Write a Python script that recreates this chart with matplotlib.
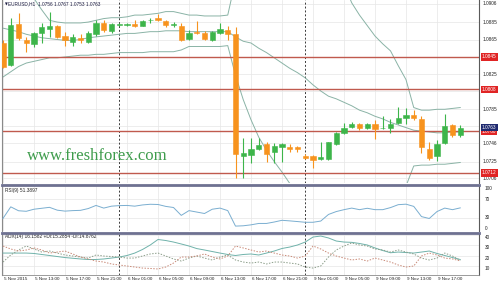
import matplotlib.pyplot as plt
from matplotlib.lines import Line2D
from matplotlib.transforms import blended_transform_factory as blend

plt.rcParams["font.family"] = ["Liberation Sans", "DejaVu Sans"]

# EURUSD H1, 5 Nov 09:00 .. 9 Nov 20:00 (one entry per candle)
opens = [1.0861, 1.0836, 1.0883, 1.0864, 1.0860, 1.0872, 1.0877, 1.0880, 1.0869, 1.0862,
         1.0867, 1.0862, 1.0871, 1.0884, 1.0875, 1.0882, 1.0882, 1.0883, 1.0881, 1.0887,
         1.0890, 1.0886, 1.0882, 1.0881, 1.0866, 1.0874, 1.0873, 1.0864, 1.0872, 1.0876,
         1.0871, 1.0732, 1.0733, 1.0740, 1.0745, 1.0736, 1.0742, 1.0742, 1.0742, 1.0731,
         1.0731, 1.0728, 1.0728, 1.0745, 1.0758, 1.0765, 1.0768, 1.0763, 1.0768, 1.0763,
         1.0763, 1.0769, 1.0775, 1.0779, 1.0774, 1.0739, 1.0731, 1.0746, 1.0767, 1.0756]
highs = [1.0865, 1.0890, 1.0895, 1.0868, 1.0874, 1.0884, 1.0897, 1.0882, 1.0874, 1.0871,
         1.0871, 1.0875, 1.0887, 1.0887, 1.0884, 1.0884, 1.0884, 1.0887, 1.0887, 1.0890,
         1.0894, 1.0887, 1.0885, 1.0884, 1.0876, 1.0886, 1.0875, 1.0875, 1.0884, 1.0881,
         1.0879, 1.0752, 1.0752, 1.0752, 1.0748, 1.0746, 1.0746, 1.0745, 1.0743, 1.0734,
         1.0733, 1.0748, 1.0748, 1.0759, 1.0769, 1.0770, 1.0769, 1.0769, 1.0773, 1.0777,
         1.0774, 1.0788, 1.0786, 1.0784, 1.0777, 1.0748, 1.0750, 1.0780, 1.0768, 1.0767]
lows = [1.0832, 1.0835, 1.0865, 1.0851, 1.0856, 1.0861, 1.0868, 1.0867, 1.0857, 1.0858,
        1.0861, 1.0861, 1.0869, 1.0874, 1.0873, 1.0880, 1.0880, 1.0879, 1.0880, 1.0884,
        1.0886, 1.0879, 1.0879, 1.0863, 1.0865, 1.0871, 1.0865, 1.0863, 1.0871, 1.0865,
        1.0706, 1.0706, 1.0723, 1.0738, 1.0725, 1.0723, 1.0725, 1.0736, 1.0736, 1.0728,
        1.0718, 1.0727, 1.0727, 1.0744, 1.0757, 1.0764, 1.0761, 1.0762, 1.0751, 1.0762,
        1.0758, 1.0768, 1.0768, 1.0773, 1.0735, 1.0727, 1.0726, 1.0745, 1.0753, 1.0753]
closes = [1.0834, 1.0882, 1.0867, 1.0861, 1.0873, 1.0879, 1.0881, 1.0868, 1.0864, 1.0868,
          1.0865, 1.0872, 1.0884, 1.0876, 1.0883, 1.0882, 1.0882, 1.0881, 1.0886, 1.0887,
          1.0887, 1.0882, 1.0882, 1.0864, 1.0872, 1.0872, 1.0866, 1.0874, 1.0877, 1.0871,
          1.0734, 1.0735, 1.0739, 1.0744, 1.0734, 1.0743, 1.0745, 1.0740, 1.0739, 1.0729,
          1.0727, 1.0730, 1.0747, 1.0758, 1.0764, 1.0768, 1.0763, 1.0768, 1.0762, 1.0763,
          1.0768, 1.0775, 1.0779, 1.0775, 1.0742, 1.0729, 1.0745, 1.0766, 1.0756, 1.0763]

# Bollinger bands (values outside the window are estimates)
bb_upper = [1.0933, 1.0928, 1.0922, 1.0916, 1.0912, 1.0899, 1.0887, 1.0885, 1.0884, 1.0884,
            1.0884, 1.0885, 1.0887, 1.0889, 1.0890, 1.0890, 1.0891, 1.0893, 1.0893, 1.0894,
            1.0895, 1.0897, 1.0897, 1.0895, 1.0893, 1.0893, 1.0892, 1.0892, 1.0892, 1.0893,
            1.0933, 1.0968, 1.0991, 1.0991, 1.0991, 1.0991, 1.0991, 1.0991, 1.0991, 1.0991,
            1.0991, 1.0991, 1.0991, 1.0968, 1.0928, 1.0907, 1.0893, 1.0881, 1.0869, 1.0860,
            1.0852, 1.0835, 1.0819, 1.0787, 1.0784, 1.0784, 1.0785, 1.0785, 1.0786, 1.0787]
bb_middle = [1.0878, 1.0876, 1.0874, 1.0871, 1.0869, 1.0867, 1.0866, 1.0865, 1.0864, 1.0864,
             1.0865, 1.0867, 1.0868, 1.0869, 1.0870, 1.0871, 1.0872, 1.0872, 1.0873, 1.0874,
             1.0874, 1.0875, 1.0875, 1.0875, 1.0874, 1.0874, 1.0874, 1.0874, 1.0874, 1.0874,
             1.0868, 1.0863, 1.0861, 1.0855, 1.0850, 1.0844, 1.0838, 1.0832, 1.0827, 1.0821,
             1.0813, 1.0806, 1.0800, 1.0797, 1.0793, 1.0789, 1.0784, 1.0781, 1.0777, 1.0774,
             1.0770, 1.0767, 1.0764, 1.0761, 1.0760, 1.0759, 1.0758, 1.0758, 1.0759, 1.0759]
bb_lower = [1.0822, 1.0828, 1.0834, 1.0838, 1.0840, 1.0842, 1.0844, 1.0844, 1.0845, 1.0846,
            1.0847, 1.0847, 1.0848, 1.0848, 1.0849, 1.0850, 1.0850, 1.0850, 1.0850, 1.0851,
            1.0851, 1.0851, 1.0851, 1.0853, 1.0857, 1.0857, 1.0857, 1.0857, 1.0857, 1.0858,
            1.0824, 1.0796, 1.0773, 1.0753, 1.0738, 1.0725, 1.0713, 1.0700, 1.0687, 1.0675,
            1.0664, 1.0652, 1.0652, 1.0652, 1.0652, 1.0652, 1.0652, 1.0652, 1.0652, 1.0652,
            1.0658, 1.0675, 1.0697, 1.0720, 1.0721, 1.0721, 1.0722, 1.0722, 1.0723, 1.0724]

rsi = [28.0, 53.7, 45.0, 43.8, 48.4, 50.5, 52.6, 46.3, 44.2, 45.3,
       45.9, 49.9, 56.8, 50.9, 55.2, 56.4, 56.8, 55.2, 57.9, 59.4,
       58.9, 54.7, 52.2, 34.7, 45.3, 42.1, 38.9, 48.4, 50.9, 45.3,
       10.9, 11.6, 13.7, 16.8, 16.8, 20.0, 23.8, 22.5, 21.0, 19.4,
       19.4, 22.1, 36.8, 43.2, 47.4, 50.9, 47.4, 50.5, 47.4, 47.4,
       52.0, 58.5, 59.6, 54.7, 32.0, 27.8, 43.2, 50.9, 47.4, 51.39]

adx = [22.5, 22.5, 22.5, 22.5, 22.1, 21.1, 20.1, 19.1, 18.1, 17.4,
       16.7, 16.2, 16.2, 16.7, 17.6, 18.6, 20.1, 22.5, 26.0, 30.4,
       35.8, 34.8, 33.3, 31.4, 29.4, 26.9, 25.5, 24.0, 22.5, 21.1,
       20.1, 21.1, 21.6, 20.6, 22.5, 24.5, 27.0, 28.4, 30.4, 33.3,
       38.2, 39.2, 37.3, 34.3, 33.3, 33.0, 31.9, 30.4, 27.5, 25.0,
       22.8, 23.5, 23.0, 22.5, 23.5, 24.5, 22.1, 20.1, 18.1, 16.16]
plus_di = [13.7, 20.6, 25.5, 29.4, 26.5, 23.5, 24.5, 22.5, 20.6, 19.6,
           18.6, 17.6, 20.6, 19.6, 19.1, 18.6, 17.6, 17.6, 19.6, 21.6,
           22.5, 19.6, 16.7, 14.7, 17.6, 19.6, 17.6, 15.7, 18.6, 20.6,
           15.7, 13.7, 12.7, 13.7, 11.8, 13.7, 13.7, 12.7, 11.8, 8.8,
           7.8, 9.8, 18.6, 25.5, 29.4, 32.4, 30.4, 29.4, 26.5, 25.5,
           23.5, 25.5, 23.5, 21.6, 17.6, 15.7, 17.6, 22.5, 19.6, 15.29]
minus_di = [29.4, 26.5, 24.5, 25.5, 27.5, 25.5, 22.5, 23.5, 24.5, 21.6,
            18.6, 16.7, 14.7, 13.7, 11.8, 10.8, 9.8, 8.8, 7.8, 7.4,
            6.9, 8.8, 12.7, 18.6, 18.6, 19.6, 21.6, 18.6, 16.7, 19.6,
            29.4, 27.5, 25.5, 23.5, 24.5, 22.5, 20.6, 19.6, 17.6, 19.6,
            29.4, 26.5, 22.5, 19.6, 17.6, 15.7, 16.7, 14.7, 17.6, 15.7,
            13.7, 10.8, 8.8, 9.8, 19.6, 22.5, 20.6, 17.6, 16.7, 14.88]

time_ticks = [0, 4, 8, 12, 16, 20, 24, 28, 32, 36, 40, 44, 48, 52, 56]
time_labels = ["5 Nov 2015", "5 Nov 13:00", "5 Nov 17:00", "5 Nov 21:00",
               "6 Nov 01:00", "6 Nov 05:00", "6 Nov 09:00", "6 Nov 13:00",
               "6 Nov 17:00", "6 Nov 21:00", "9 Nov 01:00", "9 Nov 05:00",
               "9 Nov 09:00", "9 Nov 13:00", "9 Nov 17:00"]
day_breaks = [15, 39]
price_grid = [1.0906, 1.0885, 1.0865, 1.0845, 1.0825, 1.0806, 1.0785,
              1.0766, 1.0746, 1.0725, 1.0706]
price_labels = [1.0906, 1.0885, 1.0865, 1.0825, 1.0785, 1.0746, 1.0725, 1.0706]
levels = [1.0845, 1.0808, 1.0760, 1.0712]
last_price = 1.0763
rsi_ticks = [100, 70, 30, 0]
adx_ticks = [40, 30, 20, 10]

BULL = "#3db54a"
BEAR = "#f7931e"
GRID = "#e6e6e6"
BAND = "#8ab3a6"
LEVEL = "#c05a4e"
TXT = "#222222"
FS = 3.4

fig = plt.figure(figsize=(5.0, 2.83), dpi=100)
ax = fig.add_axes([0.004, 0.3534, 0.954, 0.6466])
ax_rsi = fig.add_axes([0.004, 0.1837, 0.954, 0.1591])
ax_adx = fig.add_axes([0.004, 0.0283, 0.954, 0.1449])

for a in (ax, ax_rsi, ax_adx):
    a.set_xlim(-0.13, 61.42)
    a.set_xticks([])
    a.set_yticks([])
    a.spines["top"].set_visible(False)
    a.spines["bottom"].set_visible(False)
    a.spines["right"].set_color("#5a5a5a")
    a.spines["right"].set_linewidth(0.8)
    a.spines["left"].set_color("#8a8a8a")
    a.spines["left"].set_linewidth(0.8)
    for t in time_ticks:
        a.axvline(t, color=GRID, lw=0.5, zorder=0)
    for d in day_breaks:
        a.axvline(d, color="#3a3a3a", lw=0.7, ls=(0, (2, 2)), zorder=1)
ax_adx.spines["bottom"].set_visible(True)
ax_adx.spines["bottom"].set_color("#8a8a8a")
ax_adx.spines["bottom"].set_linewidth(0.6)

# ---- price panel
ax.set_ylim(1.07005, 1.09103)
for p in price_grid:
    ax.axhline(p, color=GRID, lw=0.5, zorder=0)

idx = list(range(len(opens)))
ax.plot(idx, bb_upper, color=BAND, lw=0.7, zorder=2)
ax.plot(idx, bb_middle, color=BAND, lw=0.7, zorder=2)
ax.plot(idx, bb_lower, color=BAND, lw=0.7, zorder=2)

for lv in levels:
    ax.axhline(lv, color=LEVEL, lw=1.0, zorder=2)

colors = [BULL if c >= o else BEAR for o, c in zip(opens, closes)]
ax.vlines(idx, lows, highs, colors=colors, lw=0.8, zorder=3)
bottoms = [min(o, c) for o, c in zip(opens, closes)]
heights = [max(abs(c - o), 0.00003) for o, c in zip(opens, closes)]
ax.bar(idx, heights, bottom=bottoms, width=0.66, color=colors,
       edgecolor=colors, lw=0.4, zorder=4)

tr = blend(ax.transAxes, ax.transData)
for p in price_labels:
    ax.text(1.007, p, f"{p:.4f}", transform=tr, fontsize=FS, color=TXT,
            ha="left", va="center", clip_on=False, zorder=5)
for lv in levels:
    y = lv - 0.00005 if lv == 1.0760 else lv
    ax.text(1.006, y, f"{lv:.4f}", transform=tr, fontsize=FS, color="white",
            ha="left", va="center", clip_on=False, zorder=6,
            bbox=dict(boxstyle="square,pad=0.25", fc="#e02424", ec="none"))
ax.text(1.006, last_price + 0.0001, f"{last_price:.4f}", transform=tr,
        fontsize=FS, color="white", ha="left", va="center", clip_on=False,
        zorder=7, bbox=dict(boxstyle="square,pad=0.25", fc="#1f2a70", ec="none"))

ax.text(0.0063, 0.978, "\u25bc", transform=ax.transAxes, fontsize=2.6,
        color="#1a1a40", family="DejaVu Sans", ha="left", va="center")
ax.text(0.0135, 0.978, "EURUSD,H1  1.0756 1.0767 1.0753 1.0763",
        transform=ax.transAxes, fontsize=FS, color="#1a1a40", ha="left", va="center")
ax.text(0.0524, 0.1475, "www.freshforex.com", transform=ax.transAxes,
        fontsize=12, family="Liberation Serif", color="#3e9c4c",
        ha="left", va="center", zorder=5)

# ---- RSI panel
ax_rsi.set_ylim(0, 100)
for v in (70, 30):
    ax_rsi.axhline(v, color=GRID, lw=0.5, zorder=0)
ax_rsi.plot(idx, rsi, color="#7aaed0", lw=0.7, zorder=3)
tr_r = blend(ax_rsi.transAxes, ax_rsi.transData)
for v in rsi_ticks:
    va = "top" if v == 100 else ("bottom" if v == 0 else "center")
    ax_rsi.text(1.012, v, str(v), transform=tr_r, fontsize=FS, color=TXT,
                ha="left", va=va, clip_on=False)
ax_rsi.text(0.0063, 0.91, "RSI(9) 51.3897", transform=ax_rsi.transAxes,
            fontsize=FS, color=TXT, ha="left", va="center")

# ---- ADX panel
ax_adx.set_ylim(1.0, 41.2)
for v in adx_ticks:
    ax_adx.axhline(v, color=GRID, lw=0.5, zorder=0)
ax_adx.plot(idx, adx, color="#6fb2aa", lw=0.7, zorder=3)
ax_adx.plot(idx, plus_di, color="#8c9e8a", lw=0.7, ls=(0, (1.5, 1.5)), zorder=3)
ax_adx.plot(idx, minus_di, color="#c98a78", lw=0.7, ls=(0, (1.5, 1.5)), zorder=3)
tr_a = blend(ax_adx.transAxes, ax_adx.transData)
for v in adx_ticks:
    ax_adx.text(1.012, v, str(v), transform=tr_a, fontsize=FS, color=TXT,
                ha="left", va="top", clip_on=False)
ax_adx.text(0.0063, 0.927, "ADX(14) 16.1582 +DI:15.2854 -DI:14.8762",
            transform=ax_adx.transAxes, fontsize=FS, color=TXT, ha="left", va="center")

tr_x = blend(ax_adx.transData, ax_adx.transAxes)
for t, lab in zip(time_ticks, time_labels):
    ax_adx.text(t + 0.1, -0.1, lab, transform=tr_x, fontsize=FS * 0.95,
                color=TXT, ha="left", va="center", clip_on=False)

# window separators
for yf in (1 - 184.5 / 283, 1 - 232.5 / 283):
    fig.add_artist(Line2D([0.004, 0.958], [yf, yf], transform=fig.transFigure,
                          color="#6e7191", lw=2.0))

fig.savefig("out.png", dpi=100, facecolor="white")
